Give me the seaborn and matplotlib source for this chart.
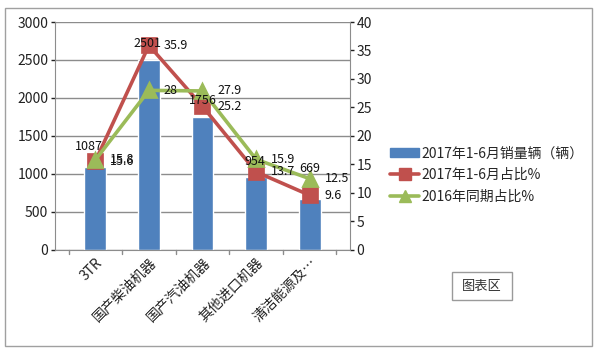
import matplotlib
matplotlib.use("Agg")
import matplotlib.pyplot as plt
import seaborn as sns
import pandas as pd
from matplotlib.patches import Rectangle
from matplotlib.lines import Line2D
from matplotlib.patches import Patch

# data
categories = ['3TR', '国产柴油机器', '国产汽油机器', '其他进口机器', '清洁能源及…']
sales_2017 = [1087, 2501, 1756, 954, 669]
share_2017 = [15.6, 35.9, 25.2, 13.7, 9.6]
share_2016 = [15.8, 28, 27.9, 15.9, 12.5]

names = ['2017年1-6月销量辆（辆）', '2017年1-6月占比%', '2016年同期占比%']
blue, red, green = '#4F81BD', '#C0504D', '#9BBB59'

# where Excel put the bar value labels (pixel offsets from bar top)
bar_label_offsets = [(-7, 21), (-1, 16), (0, 16), (-1, 16), (0, 31)]

sns.set_style('white')
plt.rcParams['font.family'] = ['Noto Sans CJK SC', 'DejaVu Sans']
plt.rcParams['axes.unicode_minus'] = False

df = pd.DataFrame({'cat': categories, 'sales': sales_2017,
                   's17': share_2017, 's16': share_2016})

fig = plt.figure(figsize=(6, 3.52), dpi=100)
ax = fig.add_axes([0.092, 0.29, 0.491, 0.6475])

sns.barplot(data=df, x='cat', y='sales', color=blue, saturation=1,
            width=0.41, ax=ax, zorder=2)
ax.set_ylim(0, 3000)
ax.set_yticks(range(0, 3001, 500))
ax.yaxis.grid(True, color='#8c8c8c', lw=1)
ax.set_axisbelow(True)
ax.set_xlabel('')
ax.set_ylabel('')

ax2 = ax.twinx()
sns.pointplot(data=df, x='cat', y='s17', color=red, markers='s',
              markersize=10, linewidth=2.6, ax=ax2)
sns.pointplot(data=df, x='cat', y='s16', color=green, markers='^',
              markersize=10, linewidth=2.6, ax=ax2)
ax2.set_ylim(0, 40)
ax2.set_yticks(range(0, 41, 5))
ax2.set_ylabel('')

for a in (ax, ax2):
    a.spines['top'].set_visible(False)
    a.tick_params(labelsize=10, colors='#222222', length=3, width=1)
ax.spines['left'].set_color('#8c8c8c')
ax.spines['bottom'].set_color('#8c8c8c')
ax.spines['right'].set_visible(False)
ax2.spines['left'].set_visible(False)
ax2.spines['bottom'].set_visible(False)
ax2.spines['right'].set_color('#8c8c8c')
ax.tick_params(axis='y', direction='out', left=True, pad=2)
ax2.tick_params(axis='y', direction='out', right=True, pad=2)
ax.tick_params(axis='x', bottom=True, length=0, pad=4)
ax.set_xticks(range(len(categories)))
ax.set_xticklabels(categories, rotation=45, ha='right', rotation_mode='anchor', fontsize=10)
for x in [i - 0.5 for i in range(len(categories) + 1)]:
    ax.plot([x, x], [0, -60], color='#8c8c8c', lw=1, clip_on=False)

# data labels (drawn on the top axes so the lines don't hide them)
for i, v in enumerate(sales_2017):
    ax2.annotate(str(v), (i, v * 40 / 3000), xytext=bar_label_offsets[i],
                 textcoords='offset pixels', ha='center', va='center',
                 fontsize=9, color='#111111', zorder=6)
for i, v in enumerate(share_2017):
    ax2.annotate(f'{v:g}', (i, v), xytext=(15, 0), textcoords='offset pixels',
                 ha='left', va='center', fontsize=9, color='#111111', zorder=6)
for i, v in enumerate(share_2016):
    ax2.annotate(f'{v:g}', (i, v), xytext=(15, 0), textcoords='offset pixels',
                 ha='left', va='center', fontsize=9, color='#111111', zorder=6)

handles = [Patch(color=blue),
           Line2D([], [], color=red, marker='s', lw=2.6, markersize=8),
           Line2D([], [], color=green, marker='^', lw=2.6, markersize=8)]
fig.legend(handles, names, loc='center left', bbox_to_anchor=(0.65, 0.503),
           frameon=False, fontsize=10, handlelength=2.1, labelspacing=0.55,
           handletextpad=0.15, borderaxespad=0, borderpad=0)

# chart border and tooltip box
fig.add_artist(Rectangle((0.008, 0.018), 0.978, 0.96, transform=fig.transFigure,
                         fill=False, ec='#a0a0a0', lw=1))
fig.add_artist(Rectangle((0.753, 0.148), 0.1, 0.078, transform=fig.transFigure,
                         fc='white', ec='#9a9a9a', lw=1))
fig.text(0.803, 0.187, '图表区', ha='center', va='center', fontsize=9.5, color='#333333')

fig.savefig('out.png', dpi=100)
